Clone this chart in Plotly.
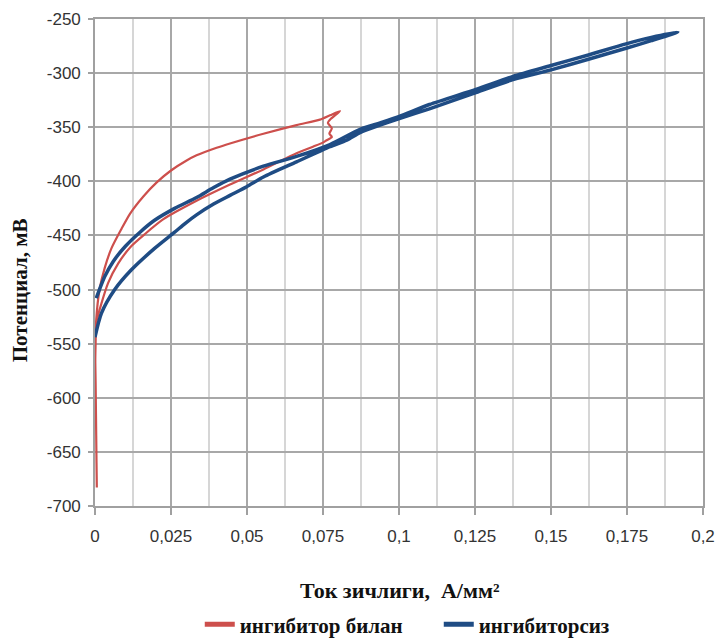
import plotly.graph_objects as go

# ---- data ----
red_name = "ингибитор билан"
blue_name = "ингибиторсиз"

red_x = [0.0006, 0.0005, 0.0004, 0.0003, 0.0002, 0.0001, 0.0002, 0.0004, 0.0015, 0.0032,
         0.0054, 0.0087, 0.0115, 0.0159, 0.0203, 0.025, 0.030, 0.0334, 0.040, 0.0444,
         0.0554, 0.0663, 0.074, 0.0773, 0.0806,
         0.0773, 0.0766, 0.0779, 0.0771, 0.0779, 0.0762, 0.0751, 0.0717, 0.0663, 0.0554,
         0.0444, 0.0334, 0.0225, 0.0163, 0.0119, 0.0076, 0.0043, 0.0021, 0.0003, 0.0]
red_y = [-683, -660, -635, -610, -585, -565, -550, -528, -500, -480,
         -462, -444, -430, -414, -401, -390, -381, -376, -369, -365,
         -356, -348, -343, -339, -335,
         -343, -346, -351, -356, -359, -362, -364, -368, -374, -389,
         -403, -418, -435, -449, -460, -476, -494, -513, -532, -545]

blue_x = [0.0, 0.0021, 0.0065, 0.0119, 0.0196, 0.0262, 0.0296, 0.0334, 0.039, 0.0444,
          0.0499, 0.0554, 0.0663, 0.0773, 0.0828, 0.0872, 0.0938, 0.1001, 0.11, 0.1253,
          0.1375, 0.15, 0.1626, 0.1747, 0.183, 0.1917,
          0.183, 0.1747, 0.1626, 0.15, 0.1375, 0.1253, 0.11, 0.1001, 0.0938, 0.0872,
          0.0773, 0.0663, 0.0554, 0.0444, 0.0389, 0.0334, 0.0262, 0.0196, 0.0148, 0.010,
          0.006, 0.0032, 0.0004]
blue_y = [-544, -522, -500, -482, -462, -447, -439, -431, -421, -413,
          -405, -396, -382, -368, -362, -355, -348, -342, -333, -318,
          -306, -297, -287, -277, -270, -262,
          -267, -273, -283, -293, -303, -315, -329, -340, -346, -352,
          -366, -377, -386, -398, -406, -415, -425, -436, -447, -460,
          -474, -488, -508]

x_ticks = [0, 0.025, 0.05, 0.075, 0.1, 0.125, 0.15, 0.175, 0.2]
x_tick_text = ["0", "0,025", "0,05", "0,075", "0,1", "0,125", "0,15", "0,175", "0,2"]
y_ticks = [-700, -650, -600, -550, -500, -450, -400, -350, -300, -250]
y_tick_text = ["-700", "-650", "-600", "-550", "-500", "-450", "-400", "-350", "-300", "-250"]

x_title = "Ток зичлиги,  А/мм²"
y_title = "Потенциал, мВ"

RED = "#cd4f4c"
BLUE = "#1f4c84"
SERIF = "Liberation Serif, Times New Roman, serif"
TICKFONT = dict(family="Liberation Sans Narrow, Arial Narrow, Liberation Sans, Arial", size=17, color="#333333")

fig = go.Figure()
fig.add_trace(go.Scatter(x=red_x, y=red_y, mode="lines",
                         line=dict(color=RED, width=2.2, shape="spline", smoothing=0.7),
                         showlegend=False, name=red_name))
fig.add_trace(go.Scatter(x=blue_x, y=blue_y, mode="lines",
                         line=dict(color=BLUE, width=3.5, shape="spline", smoothing=0.7),
                         showlegend=False, name=blue_name))
# legend entries
fig.add_trace(go.Scatter(x=[None], y=[None], mode="lines", line=dict(color=RED, width=5), name=red_name))
fig.add_trace(go.Scatter(x=[None], y=[None], mode="lines", line=dict(color=BLUE, width=5), name=blue_name))

fig.update_layout(
    width=716, height=642,
    margin=dict(l=95, r=13, t=19, b=136, autoexpand=False),
    plot_bgcolor="white", paper_bgcolor="white",
    legend=dict(orientation="h", xref="container", yref="container",
                x=0.279, xanchor="left", y=0.027, yanchor="middle",
                font=dict(family=SERIF, size=21, color="#111111", weight="bold"),
                itemwidth=30, entrywidth=194, entrywidthmode="pixels",
                bgcolor="rgba(0,0,0,0)"),
    annotations=[
        dict(text=x_title, xref="paper", yref="paper", x=0.5016, y=-0.1725,
             xanchor="center", yanchor="middle", showarrow=False,
             font=dict(family=SERIF, size=22, color="#111111", weight="bold")),
        dict(text=y_title, xref="paper", yref="paper", x=-0.123, y=0.4435,
             xanchor="center", yanchor="middle", showarrow=False, textangle=-90,
             font=dict(family=SERIF, size=21, color="#111111", weight="bold")),
    ],
)

fig.update_xaxes(
    range=[0, 0.2], tickvals=x_ticks, ticktext=x_tick_text, tickfont=TICKFONT,
    showgrid=True, gridcolor="#a8a8a8", gridwidth=1.6,
    minor=dict(dtick=0.0125, tick0=0, showgrid=True, gridcolor="#d6d6d6", gridwidth=1.6),
    ticks="outside", ticklen=7, tickcolor="#a0a0a0", tickwidth=1.5,
    showline=True, linecolor="#a0a0a0", linewidth=1.6, mirror=True,
    zeroline=False, ticklabelstandoff=7, automargin=False,
)
fig.update_yaxes(
    range=[-700, -250], tickvals=y_ticks, ticktext=y_tick_text, tickfont=TICKFONT,
    showgrid=True, gridcolor="#a8a8a8", gridwidth=1.6,
    ticks="outside", ticklen=5, tickcolor="#a0a0a0", tickwidth=1.5,
    showline=True, linecolor="#a0a0a0", linewidth=1.6, mirror=True,
    zeroline=False, ticklabelstandoff=4, automargin=False,
)

fig.write_html("out.html")
